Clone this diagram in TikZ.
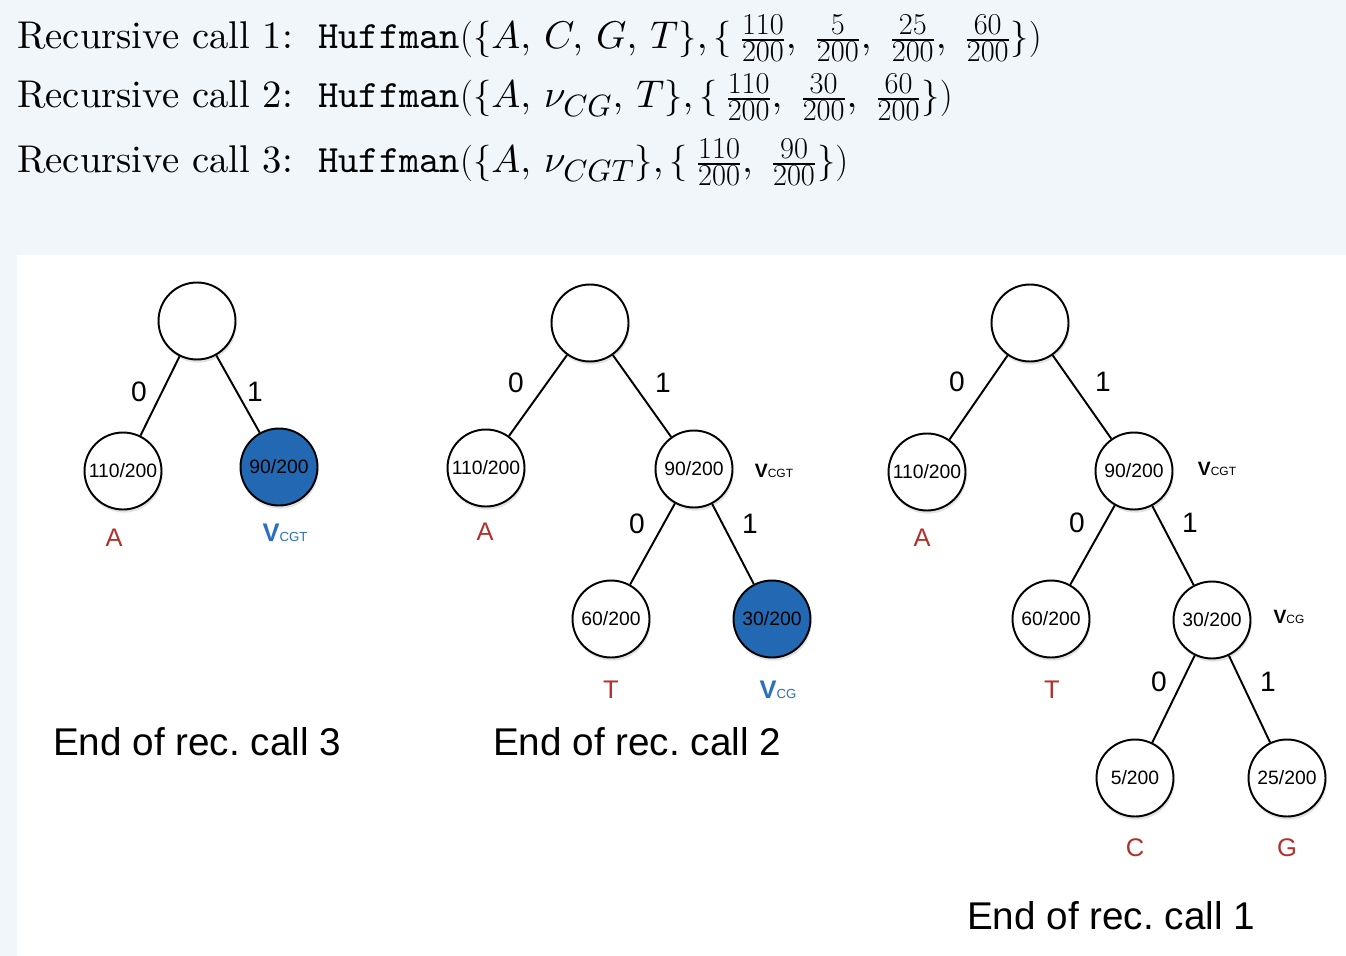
\documentclass[tikz,border=0pt]{standalone}
\usepackage{fontspec}
\usepackage{amsmath}
\usetikzlibrary{shadows}
\setmainfont{lmroman10-regular}[Extension=.otf, ItalicFont=lmroman10-italic, BoldFont=lmroman10-bold]
\setmonofont{lmmono10-regular}[Extension=.otf]
\newfontfamily\arialfont{Liberation Sans}
% Polices mathematiques en taille de dessin 10
\DeclareFontFamily{OML}{cmmx}{\skewchar\font127 }
\DeclareFontShape{OML}{cmmx}{m}{it}{<->cmmi10}{}
\DeclareFontFamily{OT1}{cmrx}{\hyphenchar\font45 }
\DeclareFontShape{OT1}{cmrx}{m}{n}{<->cmr10}{}
\DeclareSymbolFont{letters}{OML}{cmmx}{m}{it}
\DeclareSymbolFont{operators}{OT1}{cmrx}{m}{n}
\DeclareMathSizes{22}{22}{17.5}{13}
\frenchspacing
\definecolor{bgblue}{HTML}{F1F6FA}
\definecolor{fillblue}{HTML}{2368B3}
\definecolor{symred}{HTML}{B3312C}
\definecolor{vblue}{HTML}{2A70BD}
\newcommand{\vname}[2]{\textbf{V}{\fontsize{#1}{#1}\selectfont #2}}
\newcommand{\setsep}{,\mskip3.5mu}
\newcommand{\fracsep}{,\mskip6mu}
\newcommand{\opsp}{\mskip4mu}

\begin{document}
\begin{tikzpicture}[
    x=0.02cm, y=-0.02cm,
    hnode/.style={circle, draw, line width=1.1pt, fill=white, minimum size=1.54cm, inner sep=0pt,
        font=\arialfont\fontsize{11}{12}\selectfont,
        drop shadow={shadow xshift=0.6pt, shadow yshift=-1.8pt, opacity=0.22}},
    merged/.style={hnode, fill=fillblue},
    link/.style={line width=1.1pt},
    bit/.style={font=\arialfont\fontsize{16}{18}\selectfont},
    symname/.style={text=symred, font=\arialfont\fontsize{14.5}{16}\selectfont},
    vblack/.style={font=\arialfont\fontsize{11}{12}\selectfont},
    vcol/.style={text=vblue, font=\arialfont\fontsize{14.5}{16}\selectfont},
    endcap/.style={anchor=base, inner sep=0pt, font=\arialfont\fontsize{22}{26}\selectfont},
    callline/.style={anchor=base west, inner sep=0pt, font=\fontsize{22}{26}\selectfont}
]

% Fond
\useasboundingbox (0,0) rectangle (1346,956);
\fill[bgblue] (0,0) rectangle (1346,956);
\fill[white] (17,255) rectangle (1346,956);

% Appels recursifs
\node[callline] (c1) at (17,49) {Recursive call 1:\hspace{0.65em}$\texttt{Huffman}(\{A\setsep C\setsep G\setsep T\},\{\opsp\frac{110}{200}\fracsep\frac{5}{200}\fracsep\frac{25}{200}\fracsep\frac{60}{200}\})$};
\node[callline] (c2) at (17,108) {Recursive call 2:\hspace{0.65em}$\texttt{Huffman}(\{A\setsep\nu_{CG}\setsep T\},\{\opsp\frac{110}{200}\fracsep\frac{30}{200}\fracsep\frac{60}{200}\})$};
\node[callline] (c3) at (17,173) {Recursive call 3:\hspace{0.65em}$\texttt{Huffman}(\{A\setsep\nu_{CGT}\},\{\opsp\frac{110}{200}\fracsep\frac{90}{200}\})$};

% Arbre 1 (fin de l'appel 3)
\node[hnode] (r1) at (197,321) {};
\node[hnode] (r1a) at (123,471) {110/200};
\node[merged] (r1v) at (279,467) {90/200};
\draw[link] (r1) -- (r1a);
\draw[link] (r1) -- (r1v);
\node[bit] at (139,392) {0};
\node[bit] at (255,392) {1};
\node[symname] at (114,538) {A};
\node[vcol] at (285,533) {\vname{7.5}{CGT}};
\node[endcap] at (197,755) {End of rec. call 3};

% Arbre 2 (fin de l'appel 2)
\node[hnode] (r2) at (590,323) {};
\node[hnode] (r2a) at (486,468) {110/200};
\node[hnode] (r2v) at (694,469) {90/200};
\node[hnode] (r2t) at (611,619) {60/200};
\node[merged] (r2cg) at (772,619) {30/200};
\draw[link] (r2) -- (r2a);
\draw[link] (r2) -- (r2v);
\draw[link] (r2v) -- (r2t);
\draw[link] (r2v) -- (r2cg);
\node[bit] at (516,383) {0};
\node[bit] at (663,383) {1};
\node[bit] at (637,524) {0};
\node[bit] at (750,524) {1};
\node[symname] at (485,532) {A};
\node[symname] at (611,690) {T};
\node[vblack] at (774,471) {\vname{6.8}{CGT}};
\node[vcol] at (778,690) {\vname{7.5}{CG}};
\node[endcap] at (637,755) {End of rec. call 2};

% Arbre 3 (fin de l'appel 1)
\node[hnode] (r3) at (1030,323) {};
\node[hnode] (r3a) at (927,472) {110/200};
\node[hnode] (r3v) at (1134,471) {90/200};
\node[hnode] (r3t) at (1051,619) {60/200};
\node[hnode] (r3cg) at (1212,620) {30/200};
\node[hnode] (r3c) at (1135,778) {5/200};
\node[hnode] (r3g) at (1287,778) {25/200};
\draw[link] (r3) -- (r3a);
\draw[link] (r3) -- (r3v);
\draw[link] (r3v) -- (r3t);
\draw[link] (r3v) -- (r3cg);
\draw[link] (r3cg) -- (r3c);
\draw[link] (r3cg) -- (r3g);
\node[bit] at (957,382) {0};
\node[bit] at (1103,382) {1};
\node[bit] at (1077,523) {0};
\node[bit] at (1190,523) {1};
\node[bit] at (1159,682) {0};
\node[bit] at (1268,682) {1};
\node[symname] at (922,538) {A};
\node[symname] at (1052,690) {T};
\node[symname] at (1135,848) {C};
\node[symname] at (1287,848) {G};
\node[vblack] at (1217,469) {\vname{6.8}{CGT}};
\node[vblack] at (1289,617) {\vname{6.8}{CG}};
\node[endcap] at (1111,929) {End of rec. call 1};

\end{tikzpicture}
\end{document}
